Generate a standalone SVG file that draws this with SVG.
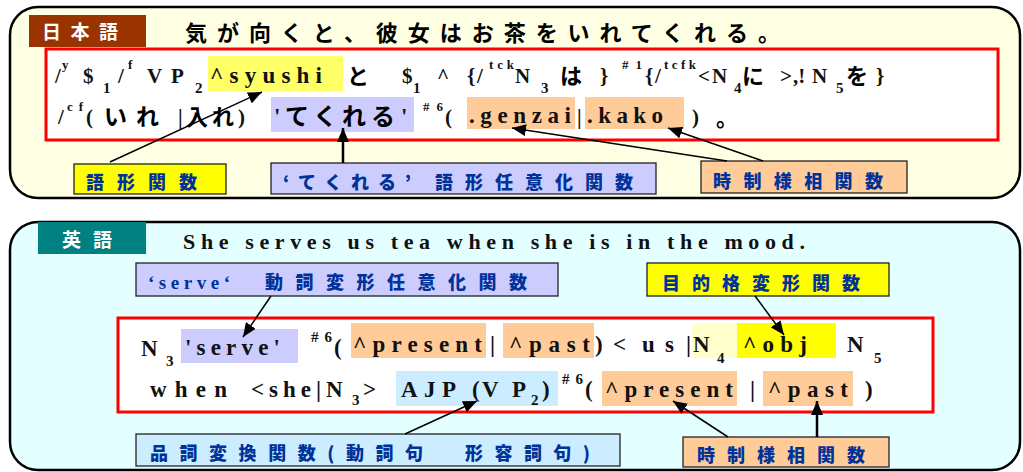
<svg xmlns="http://www.w3.org/2000/svg" width="1023" height="472" viewBox="0 0 1023 472">
<defs>
<marker id="ah" markerUnits="userSpaceOnUse" markerWidth="16" markerHeight="12" refX="14" refY="6" orient="auto">
<path d="M0,0 L14,6 L0,12 Z" fill="#000"/>
</marker>
<style>
.panel{stroke:#000;stroke-width:2.5}
.red{fill:#fff;stroke:#f00;stroke-width:3}
.co{stroke:#222;stroke-width:1.3}
.f{font-family:"Liberation Serif",serif;font-weight:bold;font-size:21px;fill:#111}
.fb{font-family:"Liberation Serif",serif;font-weight:bold;font-size:23px;fill:#111}
.sub{font-family:"Liberation Serif",serif;font-weight:bold;font-size:15px;fill:#111}
.sup{font-family:"Liberation Serif",serif;font-weight:bold;font-size:13px;fill:#111}
.j{font-family:"Noto Sans CJK JP",sans-serif;font-weight:bold;font-size:22px;fill:#000}
.lab{font-family:"Noto Sans CJK JP",sans-serif;font-weight:bold;font-size:19px;fill:#fff}
.c{font-family:"Noto Sans CJK JP",sans-serif;font-weight:900;font-size:18px;fill:#003399}
.cs{font-family:"Liberation Serif",serif;font-weight:bold;font-size:19px;fill:#003399}
.ar{stroke:#000;stroke-width:1.5;fill:none;marker-end:url(#ah)}
.art{stroke:#000;stroke-width:2.5;fill:none;marker-end:url(#ah)}
</style>
</defs>

<g id="panel-japanese">
<rect class="panel" x="10" y="7" width="1010" height="191" rx="28" fill="#FFFFE3"/>
<rect x="29" y="15" width="117" height="32" fill="#993300"/>
<text class="lab" x="42" y="39" textLength="76" lengthAdjust="spacing">日本語</text>
<text class="j" x="185" y="41" textLength="595" lengthAdjust="spacing">気が向くと、彼女はお茶をいれてくれる。</text>
</g>

<g id="formula-japanese">
<rect class="red" x="46" y="49" width="952" height="91"/>
<rect x="208" y="56" width="135" height="35" fill="#FFFF66"/>
<rect x="271" y="97" width="143" height="35" fill="#CCCCFF"/>
<rect x="467" y="97" width="108" height="32" fill="#FFCC99"/>
<rect x="585" y="97" width="99" height="32" fill="#FFCC99"/>
<!-- line 1 -->
<text class="f" x="55" y="83">/</text><text class="sup" x="62" y="69">y</text>
<text class="f" x="83" y="83">$</text><text class="sub" x="103" y="93">1</text>
<text class="f" x="118" y="83">/</text><text class="sup" x="128" y="69">f</text>
<text class="f" x="147" y="83">V</text><text class="f" x="171" y="83">P</text><text class="sub" x="195" y="93">2</text>
<text class="fb" x="210" y="83" textLength="112" lengthAdjust="spacing">^syushi</text>
<text class="j" x="347" y="84">と</text>
<text class="f" x="402" y="83">$</text><text class="sub" x="413" y="93">1</text>
<text class="f" x="437" y="83">^</text>
<text class="f" x="467" y="83">{</text><text class="f" x="477" y="83">/</text>
<text class="sup" x="489" y="69" textLength="25" lengthAdjust="spacing">tck</text>
<text class="f" x="515" y="83">N</text><text class="sub" x="541" y="93">3</text>
<text class="j" x="560" y="84">は</text>
<text class="f" x="600" y="83">}</text>
<text class="sup" x="622" y="69" textLength="20" lengthAdjust="spacing">#1</text>
<text class="f" x="645" y="83">{</text><text class="f" x="655" y="83">/</text>
<text class="sup" x="664" y="69" textLength="32" lengthAdjust="spacing">tcfk</text>
<text class="f" x="698" y="83">&lt;</text>
<text class="f" x="712" y="83">N</text><text class="sub" x="734" y="93">4</text>
<text class="j" x="742" y="84">に</text>
<text class="f" x="780" y="83">&gt;</text>
<text class="f" x="793" y="83">,!</text>
<text class="f" x="812" y="83">N</text><text class="sub" x="836" y="93">5</text>
<text class="j" x="846" y="84">を</text>
<text class="f" x="876" y="83">}</text>
<!-- line 2 -->
<text class="f" x="58" y="124">/</text><text class="sup" x="67" y="111" textLength="16" lengthAdjust="spacing">cf</text>
<text class="f" x="86" y="124">(</text>
<text class="j" x="104" y="125" style="font-size:23px" textLength="55" lengthAdjust="spacing">いれ</text>
<text class="f" x="178" y="124">|</text>
<text class="j" x="186" y="125" textLength="48" lengthAdjust="spacing">入れ</text>
<text class="f" x="238" y="124">)</text>
<text class="fb" x="274" y="124">'</text>
<text class="j" x="285" y="125" style="font-size:24px" textLength="110" lengthAdjust="spacing">てくれる</text>
<text class="fb" x="401" y="124">'</text>
<text class="sup" x="423" y="111" textLength="20" lengthAdjust="spacing">#6</text>
<text class="f" x="445" y="124">(</text>
<text class="fb" x="469" y="123" textLength="102" lengthAdjust="spacing">.genzai</text>
<text class="f" x="577" y="124">|</text>
<text class="fb" x="587" y="123" textLength="76" lengthAdjust="spacing">.kako</text>
<text class="f" x="692" y="124">)</text>
<text class="j" x="716" y="126">。</text>
</g>

<g id="callout-gokei">
<rect class="co" x="74" y="164" width="152" height="30" fill="#FFFF00"/>
<text class="c" x="86" y="189" textLength="111" lengthAdjust="spacing">語形関数</text>
</g>
<g id="callout-tekureru">
<rect class="co" x="271" y="163" width="385" height="31" fill="#CCCCFF"/>
<text class="c" x="283" y="189" textLength="128" lengthAdjust="spacing">‘てくれる’</text>
<text class="c" x="435" y="189" textLength="198" lengthAdjust="spacing">語形任意化関数</text>
</g>
<g id="callout-jisei-1">
<rect class="co" x="701" y="161" width="206" height="32" fill="#FFCC99"/>
<text class="c" x="713" y="188" textLength="170" lengthAdjust="spacing">時制様相関数</text>
</g>

<g id="panel-english">
<rect class="panel" x="10" y="222" width="1010" height="248" rx="28" fill="#E3FFFF"/>
<rect x="38" y="222" width="108" height="32" fill="#008080"/>
<text class="lab" x="62" y="247" textLength="50" lengthAdjust="spacing">英語</text>
<text class="fb" x="183" y="249" style="font-size:22px" textLength="622" lengthAdjust="spacing">She serves us tea when she is in the mood.</text>
</g>

<g id="callout-serve">
<rect class="co" x="136" y="263" width="422" height="33" fill="#CCCCFF"/>
<text class="cs" x="148" y="289" textLength="82" lengthAdjust="spacing">‘serve‘</text>
<text class="c" x="265" y="289" textLength="262" lengthAdjust="spacing">動詞変形任意化関数</text>
</g>
<g id="callout-mokuteki">
<rect class="co" x="647" y="263" width="242" height="33" fill="#FFFF00"/>
<text class="c" x="662" y="290" textLength="198" lengthAdjust="spacing">目的格変形関数</text>
</g>

<g id="formula-english">
<rect class="red" x="118" y="318" width="815" height="94"/>
<rect x="181" y="329" width="117" height="34" fill="#CCCCFF"/>
<rect x="351" y="323" width="135" height="35" fill="#FFCC99"/>
<rect x="503" y="323" width="91" height="35" fill="#FFCC99"/>
<rect x="692" y="323" width="45" height="35" fill="#FFFFCC"/>
<rect x="737" y="323" width="99" height="35" fill="#FFFF00"/>
<rect x="396" y="371" width="162" height="35" fill="#CCECFF"/>
<rect x="602" y="371" width="135" height="35" fill="#FFCC99"/>
<rect x="763" y="371" width="90" height="35" fill="#FFCC99"/>
<!-- line 1 -->
<text class="fb" x="141" y="356">N</text><text class="sub" x="166" y="366">3</text>
<text class="fb" x="185" y="355" textLength="95" lengthAdjust="spacing">'serve'</text>
<text class="sup" x="311" y="342" style="font-size:15px" textLength="21" lengthAdjust="spacing">#6</text>
<text class="fb" x="334" y="355">(</text>
<text class="fb" x="353" y="352" textLength="129" lengthAdjust="spacing">^present</text>
<text class="fb" x="490" y="352">|</text>
<text class="fb" x="509" y="352" textLength="81" lengthAdjust="spacing">^past</text>
<text class="fb" x="595" y="352">)</text>
<text class="fb" x="613" y="352">&lt;</text>
<text class="fb" x="642" y="352" textLength="32" lengthAdjust="spacing">us</text>
<text class="fb" x="686" y="352">|</text>
<text class="fb" x="693" y="352">N</text><text class="sub" x="717" y="363">4</text>
<text class="fb" x="743" y="352" textLength="64" lengthAdjust="spacing">^obj</text>
<text class="fb" x="847" y="352">N</text><text class="sub" x="874" y="363">5</text>
<!-- line 2 -->
<text class="fb" x="150" y="397" textLength="77" lengthAdjust="spacing">when</text>
<text class="fb" x="251" y="397" textLength="70" lengthAdjust="spacing">&lt;she|</text>
<text class="fb" x="326" y="397">N</text><text class="sub" x="352" y="405">3</text>
<text class="fb" x="363" y="397">&gt;</text>
<text class="fb" x="401" y="397" textLength="55" lengthAdjust="spacing">AJP</text>
<text class="fb" x="472" y="397">(</text>
<text class="fb" x="482" y="397">V</text><text class="fb" x="512" y="397">P</text>
<text class="sub" x="531" y="405">2</text>
<text class="fb" x="542" y="397">)</text>
<text class="sup" x="562" y="384" style="font-size:15px" textLength="21" lengthAdjust="spacing">#6</text>
<text class="fb" x="585" y="397">(</text>
<text class="fb" x="605" y="397" textLength="128" lengthAdjust="spacing">^present</text>
<text class="fb" x="750" y="397">|</text>
<text class="fb" x="768" y="397" textLength="80" lengthAdjust="spacing">^past</text>
<text class="fb" x="865" y="397">)</text>
</g>

<g id="callout-hinshi">
<rect class="co" x="136" y="434" width="484" height="32" fill="#CCECFF"/>
<text class="c" x="150" y="460" textLength="273" lengthAdjust="spacing">品詞変換関数(動詞句</text>
<text class="c" x="465" y="460" textLength="125" lengthAdjust="spacing">形容詞句)</text>
</g>
<g id="callout-jisei-2">
<rect class="co" x="683" y="437" width="206" height="30" fill="#FFCC99"/>
<text class="c" x="697" y="462" textLength="168" lengthAdjust="spacing">時制様相関数</text>
</g>

<g id="connectors">
<line class="ar" x1="110" y1="162" x2="262" y2="92"/>
<line class="art" x1="343" y1="163" x2="343" y2="128"/>
<line class="ar" x1="727" y1="161" x2="512" y2="128"/>
<line class="ar" x1="763" y1="161" x2="668" y2="128"/>
<line class="ar" x1="271" y1="296" x2="243" y2="337"/>
<line class="ar" x1="755" y1="296" x2="784" y2="335"/>
<line class="ar" x1="405" y1="434" x2="477" y2="401"/>
<line class="ar" x1="728" y1="437" x2="673" y2="401"/>
<line class="art" x1="817" y1="437" x2="817" y2="401"/>
</g>
</svg>
